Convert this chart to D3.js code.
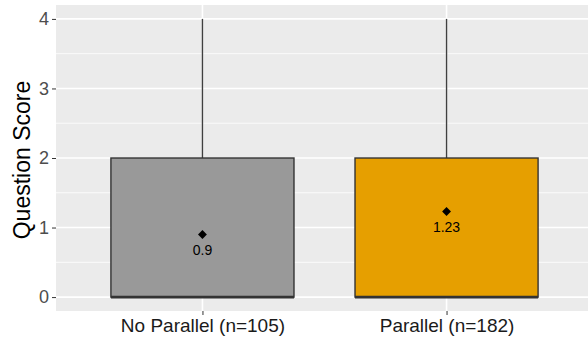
<!DOCTYPE html>
<html>
<head>
<meta charset="utf-8">
<script src="https://cdn.jsdelivr.net/npm/d3@7"></script>
<style>
  body { margin: 0; background: #fff; }
  text { font-family: "Liberation Sans", Arial, sans-serif; }
</style>
</head>
<body>
<div class="canva"></div>
<script>
// data
const groups = ['No Parallel (n=105)', 'Parallel (n=182)'];
const fills = ['#999999', '#E69F00'];
const q1 = [0, 0];
const medians = [0, 0];
const q3 = [2, 2];
const whiskerLow = [0, 0];
const whiskerHigh = [4, 4];
const means = [0.9, 1.23];
const meanLabels = ['0.9', '1.23'];
const yTicks = [0, 1, 2, 3, 4];
const yMinor = [0.5, 1.5, 2.5, 3.5];

const width = 588, height = 339;

const svg = d3.select('.canva').append('svg')
    .attr('width', width)
    .attr('height', height);

// ggplot discrete scale: 0.6 expansion on each side
const x = d3.scaleLinear()
    .domain([0.4, 2.6])
    .range([56, 593]);
const y = d3.scaleLinear()
    .domain([-0.2, 4.2])
    .range([311, 5]);

const panel = svg.append('g');
panel.append('rect')
    .attr('x', x(0.4)).attr('y', y(4.2))
    .attr('width', x(2.6) - x(0.4))
    .attr('height', y(-0.2) - y(4.2))
    .attr('fill', '#EBEBEB');

// grid
panel.selectAll('.minor').data(yMinor).enter().append('line')
    .attr('x1', x(0.4)).attr('x2', x(2.6))
    .attr('y1', d => y(d)).attr('y2', d => y(d))
    .attr('stroke', '#fff').attr('stroke-width', 0.8);
panel.selectAll('.major').data(yTicks).enter().append('line')
    .attr('x1', x(0.4)).attr('x2', x(2.6))
    .attr('y1', d => y(d)).attr('y2', d => y(d))
    .attr('stroke', '#fff').attr('stroke-width', 1.6);
panel.selectAll('.vmajor').data(groups).enter().append('line')
    .attr('x1', (d, i) => x(i + 1)).attr('x2', (d, i) => x(i + 1))
    .attr('y1', y(4.2)).attr('y2', y(-0.2))
    .attr('stroke', '#fff').attr('stroke-width', 1.6);

const boxW = 0.75;
const box = panel.selectAll('.box').data(groups).enter().append('g');

// whiskers
box.append('line')
    .attr('x1', (d, i) => x(i + 1)).attr('x2', (d, i) => x(i + 1))
    .attr('y1', (d, i) => y(q3[i])).attr('y2', (d, i) => y(whiskerHigh[i]))
    .attr('stroke', '#404040').attr('stroke-width', 1.4);
box.append('line')
    .attr('x1', (d, i) => x(i + 1)).attr('x2', (d, i) => x(i + 1))
    .attr('y1', (d, i) => y(q1[i])).attr('y2', (d, i) => y(whiskerLow[i]))
    .attr('stroke', '#404040').attr('stroke-width', 1.4);

box.append('rect')
    .attr('x', (d, i) => x(i + 1 - boxW / 2))
    .attr('width', x(1 + boxW / 2) - x(1 - boxW / 2))
    .attr('y', (d, i) => y(q3[i]))
    .attr('height', (d, i) => y(q1[i]) - y(q3[i]))
    .attr('fill', (d, i) => fills[i])
    .attr('stroke', '#333').attr('stroke-width', 1.4);

box.append('line')
    .attr('x1', (d, i) => x(i + 1 - boxW / 2)).attr('x2', (d, i) => x(i + 1 + boxW / 2))
    .attr('y1', (d, i) => y(medians[i])).attr('y2', (d, i) => y(medians[i]))
    .attr('stroke', '#333').attr('stroke-width', 2.6);

// mean markers
box.append('path')
    .attr('d', d3.symbol(d3.symbolDiamond2, 50))
    .attr('transform', (d, i) => `translate(${x(i + 1)},${y(means[i])})`)
    .attr('fill', '#000');
box.append('text')
    .attr('x', (d, i) => x(i + 1))
    .attr('y', (d, i) => y(means[i]) + 20)
    .attr('text-anchor', 'middle')
    .attr('font-size', 14)
    .attr('fill', '#000')
    .text((d, i) => meanLabels[i]);

// axes
const yAxis = d3.axisLeft(y).tickValues(yTicks).tickSize(4).tickPadding(3).tickFormat(d3.format('d'));
const yAxisGroup = svg.append('g')
    .attr('transform', `translate(${x(0.4)},0)`)
    .call(yAxis);
yAxisGroup.select('.domain').remove();
yAxisGroup.selectAll('line').attr('stroke', '#333');
yAxisGroup.selectAll('text').attr('font-size', 18).attr('fill', '#4D4D4D')
    .attr('font-family', '"Liberation Sans", Arial, sans-serif');

const xBand = d3.scalePoint().domain(groups).range([x(1), x(2)]);
const xAxis = d3.axisBottom(xBand).tickSize(4).tickPadding(4);
const xAxisGroup = svg.append('g')
    .attr('transform', `translate(0,${y(-0.2)})`)
    .call(xAxis);
xAxisGroup.select('.domain').remove();
xAxisGroup.selectAll('line').attr('stroke', '#333');
xAxisGroup.selectAll('text').attr('font-size', 19).attr('fill', '#1a1a1a')
    .attr('font-family', '"Liberation Sans", Arial, sans-serif');

svg.append('text')
    .attr('transform', `translate(30,160) rotate(-90)`)
    .attr('text-anchor', 'middle')
    .attr('font-size', 23)
    .attr('fill', '#000')
    .text('Question Score');
</script>
</body>
</html>
